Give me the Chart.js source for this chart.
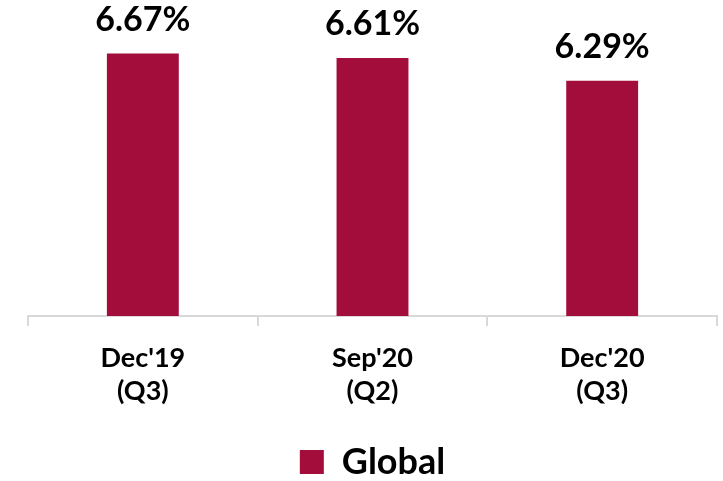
<!DOCTYPE html>
<html>
<head>
<meta charset="utf-8">
<script src="https://cdn.jsdelivr.net/npm/chart.js@4/dist/chart.umd.min.js"></script>
<style>
  html, body { margin: 0; padding: 0; background: #fff; }
  #wrap { width: 723px; height: 481px; }
</style>
</head>
<body>
<div id="wrap"><canvas id="rate"></canvas></div>
<script>
const periods = [["Dec'19", "(Q3)"], ["Sep'20", "(Q2)"], ["Dec'20", "(Q3)"]]
const globalRate = [6.67, 6.61, 6.29]
const seriesName = 'Global'

const barColor = '#A20D3C'
const font = 'Lato, "Open Sans", sans-serif'

// value labels above bars
const valueLabels = {
  id: 'valueLabels',
  afterDatasetsDraw(chart) {
    const c = chart.ctx
    const meta = chart.getDatasetMeta(0)
    c.save()
    c.font = 'bold 34px ' + font
    c.fillStyle = '#000'
    c.textAlign = 'center'
    c.textBaseline = 'alphabetic'
    meta.data.forEach((bar, i) => {
      c.fillText(globalRate[i].toFixed(2) + '%', bar.x, bar.y - 23)
    })
    c.restore()
  }
}

// pull the legend a little lower
const legendShift = {
  id: 'legendShift',
  beforeInit(chart) {
    const fit = chart.legend.fit
    chart.legend.fit = function() {
      fit.call(this)
      this.height -= 9
    }
  }
}

const ctx = document.getElementById('rate')

window.myChart = new Chart(ctx, {
  type: 'bar',
  data: {
    labels: periods,
    datasets: [{
      label: seriesName,
      data: globalRate,
      backgroundColor: barColor,
      borderWidth: 0,
      categoryPercentage: 1,
      barPercentage: 0.313
    }]
  },
  options: {
    responsive: true,
    maintainAspectRatio: false,
    animation: false,
    layout: { padding: { top: 30, left: 28, right: 6, bottom: 0 } },
    plugins: {
      tooltip: { enabled: false },
      legend: {
        position: 'bottom',
        labels: {
          boxWidth: 24,
          boxHeight: 24,
          padding: 0,
          color: '#000',
          font: { family: font, size: 36, weight: 'bold', lineHeight: 1 }
        }
      }
    },
    scales: {
      x: {
        offset: true,
        afterFit(scale) { scale.height = 128 },
        border: { display: true, color: '#d9d9d9', width: 2 },
        grid: {
          offset: true,
          drawOnChartArea: false,
          drawTicks: true,
          tickLength: 10,
          color: '#d9d9d9',
          lineWidth: 2
        },
        ticks: {
          color: '#000',
          padding: 16,
          font: { family: font, size: 27, weight: 'bold', lineHeight: 1.22 }
        }
      },
      y: {
        display: false,
        min: 3,
        max: 7
      }
    }
  },
  plugins: [valueLabels, legendShift]
})
</script>
</body>
</html>
